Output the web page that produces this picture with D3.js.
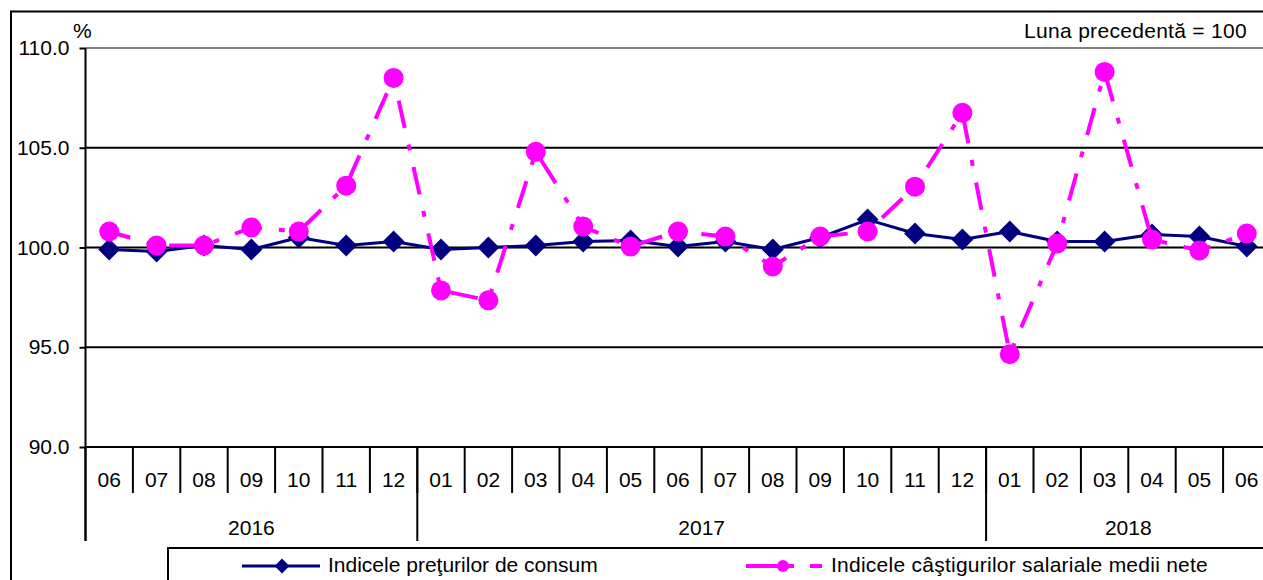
<!DOCTYPE html>
<html>
<head>
<meta charset="utf-8">
<script src="https://cdn.jsdelivr.net/npm/d3@7"></script>
<style>
  html, body { margin: 0; padding: 0; background: #fff; }
  svg { display: block; }
  text { font-family: "Liberation Sans", Arial, sans-serif; fill: #000; }
</style>
</head>
<body>
<svg id="chart" width="1263" height="580"></svg>
<script>
// ---- data ----
const monthLabels = ["06","07","08","09","10","11","12",
  "01","02","03","04","05","06","07","08","09","10","11","12",
  "01","02","03","04","05","06"];
const yearLabels = ["2016", "2017", "2018"];
const monthsInYear = [7, 12, 6];
const cpi = [99.9, 99.8, 100.1, 99.9, 100.5, 100.1, 100.3,
  99.9, 100.0, 100.1, 100.3, 100.35, 100.05, 100.3, 99.9, 100.5, 101.4, 100.7, 100.4,
  100.8, 100.3, 100.3, 100.65, 100.55, 100.05];
const wages = [100.8, 100.1, 100.1, 101.0, 100.8, 103.1, 108.5,
  97.85, 97.35, 104.8, 101.05, 100.05, 100.8, 100.55, 99.05, 100.55, 100.8, 103.05, 106.75,
  94.65, 100.2, 108.8, 100.4, 99.85, 100.7];
const yTicks = [90, 95, 100, 105, 110];
const seriesNames = ["Indicele preţurilor de consum", "Indicele câştigurilor salariale medii nete"];
const unitLabel = "%";
const noteLabel = "Luna precedentă = 100";

// ---- layout ----
const svg = d3.select("#chart");
const plotLeft = 85.5, bandW = 47.4, plotTop = 48, plotBottom = 447;
const keys = monthLabels.map((m, i) => i);
const x = d3.scaleBand().domain(keys).range([plotLeft, plotLeft + bandW * keys.length]).padding(0);
const y = d3.scaleLinear().domain([90, 110]).range([plotBottom, plotTop]);
const FS = "21px";
const navy = "#000080", magenta = "#FF00FF";

// outer frame
svg.append("rect").attr("x", 11).attr("y", 11.5).attr("width", 1400).attr("height", 700)
  .attr("fill", "none").attr("stroke", "#000").attr("stroke-width", 2);

// gridlines
yTicks.forEach(t => {
  svg.append("line")
    .attr("x1", plotLeft).attr("x2", 1300)
    .attr("y1", y(t)).attr("y2", y(t))
    .attr("stroke", t === 110 ? "#808080" : "#000")
    .attr("stroke-width", 2);
});

// y axis
const yAxis = d3.axisLeft(y).tickValues(yTicks).tickFormat(d3.format(".1f")).tickSize(6).tickPadding(10);
const gy = svg.append("g").attr("transform", `translate(${plotLeft},0)`).call(yAxis);
gy.select(".domain").remove();
gy.selectAll(".tick line").attr("stroke", "#000").attr("stroke-width", 2);
gy.selectAll(".tick text").attr("font-size", FS).attr("font-family", '"Liberation Sans", Arial, sans-serif').attr("fill", "#000");
svg.append("line").attr("x1", plotLeft).attr("x2", plotLeft).attr("y1", plotTop).attr("y2", 541)
  .attr("stroke", "#000").attr("stroke-width", 2);

// unit and note
svg.append("text").attr("x", 73).attr("y", 38).attr("font-size", FS).text(unitLabel);
svg.append("text").attr("x", 1247).attr("y", 38).attr("font-size", FS).attr("text-anchor", "end")
  .attr("letter-spacing", "0.3px").text(noteLabel);

// month separators and labels
keys.forEach((k, i) => {
  if (i > 0) {
    svg.append("line").attr("x1", x(k)).attr("x2", x(k)).attr("y1", plotBottom).attr("y2", 493)
      .attr("stroke", "#000").attr("stroke-width", 2);
  }
  svg.append("text").attr("x", x(k) + x.bandwidth() / 2).attr("y", 487)
    .attr("text-anchor", "middle").attr("font-size", FS).text(monthLabels[k]);
});

// year separators and labels
let startIdx = 0;
yearLabels.forEach((yr, j) => {
  const x0 = x(startIdx);
  const endIdx = startIdx + monthsInYear[j];
  const x1 = endIdx < keys.length ? x(endIdx) : x(keys.length - 1) + x.bandwidth();
  svg.append("line").attr("x1", x0).attr("x2", x0).attr("y1", plotBottom).attr("y2", 541)
    .attr("stroke", "#000").attr("stroke-width", 2);
  svg.append("text").attr("x", (x0 + x1) / 2).attr("y", 535)
    .attr("text-anchor", "middle").attr("font-size", FS).text(yr);
  startIdx = endIdx;
});

const cx = i => x(i) + x.bandwidth() / 2;

// CPI series
svg.append("path").datum(cpi)
  .attr("d", d3.line().x((d, i) => cx(i)).y(d => y(d)))
  .attr("fill", "none").attr("stroke", navy).attr("stroke-width", 3).attr("stroke-linejoin", "round");
svg.selectAll(".dia").data(cpi).enter().append("path")
  .attr("d", d3.symbol().type(d3.symbolSquare).size(15.5 * 15.5))
  .attr("transform", (d, i) => `translate(${cx(i)},${y(d)}) rotate(45)`)
  .attr("fill", navy);

// wages series
svg.append("path").datum(wages)
  .attr("d", d3.line().x((d, i) => cx(i)).y(d => y(d)))
  .attr("fill", "none").attr("stroke", magenta).attr("stroke-width", 4)
  .attr("stroke-dasharray", "28,17,6,17").attr("stroke-dashoffset", 6);
svg.selectAll(".dot").data(wages).enter().append("circle")
  .attr("cx", (d, i) => cx(i)).attr("cy", d => y(d)).attr("r", 10)
  .attr("fill", magenta);

// legend
svg.append("rect").attr("x", 168).attr("y", 548).attr("width", 1200).attr("height", 100)
  .attr("fill", "#fff").attr("stroke", "#000").attr("stroke-width", 2);
svg.append("line").attr("x1", 242).attr("x2", 320).attr("y1", 566).attr("y2", 566)
  .attr("stroke", navy).attr("stroke-width", 3);
svg.append("path").attr("d", d3.symbol().type(d3.symbolSquare).size(10.5 * 10.5))
  .attr("transform", "translate(282,566) rotate(45)").attr("fill", navy);
svg.append("text").attr("x", 328).attr("y", 572).attr("font-size", FS).text(seriesNames[0]);

svg.append("line").attr("x1", 746).attr("x2", 822).attr("y1", 566).attr("y2", 566)
  .attr("stroke", magenta).attr("stroke-width", 4).attr("stroke-dasharray", "48,16,12");
svg.append("circle").attr("cx", 783).attr("cy", 566).attr("r", 6).attr("fill", magenta);
svg.append("text").attr("x", 831).attr("y", 572).attr("font-size", FS)
  .attr("letter-spacing", "0.25px").text(seriesNames[1]);
</script>
</body>
</html>
